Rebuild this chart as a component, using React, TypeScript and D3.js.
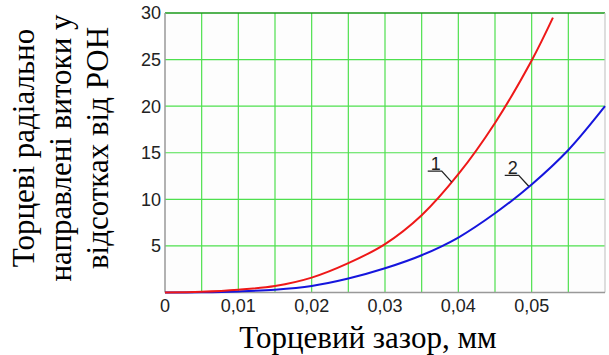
import { useRef, useEffect } from "react";
import * as d3 from "d3";

// torцевий зазор, мм
const gapRed = [0, 0.005, 0.01, 0.015, 0.02, 0.025, 0.03, 0.035, 0.04, 0.045, 0.05, 0.0529];
const curve1 = [0, 0.08, 0.3, 0.7, 1.6, 3.15, 5.2, 8.3, 12.7, 18.2, 24.9, 29.5];

const gapBlue = [0, 0.005, 0.01, 0.015, 0.02, 0.025, 0.03, 0.035, 0.04, 0.045, 0.05, 0.055, 0.06];
const curve2 = [0, 0.03, 0.12, 0.3, 0.7, 1.5, 2.6, 4.0, 5.9, 8.5, 11.6, 15.3, 20.0];

const xTicks = [0, 0.01, 0.02, 0.03, 0.04, 0.05];
const yTicks = [5, 10, 15, 20, 25, 30];
const xGrid = [0.005, 0.01, 0.015, 0.02, 0.025, 0.03, 0.035, 0.04, 0.045, 0.05, 0.055];

const labelNames = ["1", "2"];
const labelX = [0.0391, 0.0496];
const labelY = [11.85, 11.4];

const yTitle = ["Торцеві радіально", "направлені витоки у", "відсотках від РОН"];
const xTitle = "Торцевий зазор, мм";

const App = () => {
  const svgRef = useRef<SVGSVGElement>(null);

  useEffect(() => {
    const svg = d3.select(svgRef.current);
    svg.selectAll("*").remove();

    const left = 165, right = 605, top = 13, bottom = 292.5;
    const x = d3.scaleLinear().domain([0, 0.06]).range([left, right]);
    const y = d3.scaleLinear().domain([0, 30]).range([bottom, top]);

    svg.append("rect")
      .attr("x", left).attr("y", top)
      .attr("width", right - left).attr("height", bottom - top)
      .attr("fill", "#fdfdfd");

    // grid
    svg.append("g")
      .selectAll("line")
      .data(xGrid)
      .join("line")
      .attr("x1", (d) => x(d)).attr("x2", (d) => x(d))
      .attr("y1", top).attr("y2", bottom)
      .attr("stroke", "#4ee04e").attr("stroke-width", 1.2);

    svg.append("g")
      .selectAll("line")
      .data(yTicks.slice(0, -1))
      .join("line")
      .attr("x1", left).attr("x2", right)
      .attr("y1", (d) => y(d)).attr("y2", (d) => y(d))
      .attr("stroke", "#4ee04e").attr("stroke-width", 1.2);

    // frame
    svg.append("line")
      .attr("x1", left).attr("x2", right)
      .attr("y1", y(30)).attr("y2", y(30))
      .attr("stroke", "#1a9a1a").attr("stroke-width", 1.5);
    svg.append("line")
      .attr("x1", right).attr("x2", right)
      .attr("y1", top).attr("y2", bottom)
      .attr("stroke", "#c8c8c8").attr("stroke-width", 1.2);
    svg.append("line")
      .attr("x1", left).attr("x2", right)
      .attr("y1", bottom).attr("y2", bottom)
      .attr("stroke", "#999").attr("stroke-width", 1.5);
    svg.append("line")
      .attr("x1", left).attr("x2", left)
      .attr("y1", top).attr("y2", bottom)
      .attr("stroke", "#999").attr("stroke-width", 1.5);

    // tick labels
    const fmt = (d: number) => (d === 0 ? "0" : d3.format(".2f")(d).replace(".", ","));
    svg.append("g")
      .selectAll("text")
      .data(xTicks)
      .join("text")
      .attr("x", (d) => x(d))
      .attr("y", 312)
      .attr("text-anchor", "middle")
      .attr("font-family", "'Liberation Sans', Arial, sans-serif")
      .attr("font-size", 18)
      .attr("fill", "#222")
      .text(fmt);

    svg.append("g")
      .selectAll("text")
      .data(yTicks)
      .join("text")
      .attr("x", left - 4)
      .attr("y", (d) => y(d))
      .attr("dy", "0.36em")
      .attr("text-anchor", "end")
      .attr("font-family", "'Liberation Sans', Arial, sans-serif")
      .attr("font-size", 18)
      .attr("fill", "#222")
      .text((d) => d);

    // curves
    const line = d3.line<[number, number]>()
      .x((d) => x(d[0]))
      .y((d) => y(d[1]))
      .curve(d3.curveCatmullRom.alpha(0.5));

    svg.append("path")
      .attr("d", line(gapBlue.map((g, i) => [g, curve2[i]])))
      .attr("fill", "none")
      .attr("stroke", "#1515dd")
      .attr("stroke-width", 2);

    svg.append("path")
      .attr("d", line(gapRed.map((g, i) => [g, curve1[i]])))
      .attr("fill", "none")
      .attr("stroke", "#ee1818")
      .attr("stroke-width", 2);

    // curve labels with leaders
    labelNames.forEach((name, i) => {
      const ax = x(labelX[i]);
      const ay = y(labelY[i]);
      svg.append("path")
        .attr("d", `M${ax},${ay}L${ax - 10},${ay - 11}L${ax - 24},${ay - 11}`)
        .attr("fill", "none")
        .attr("stroke", "#222")
        .attr("stroke-width", 1.3);
      svg.append("text")
        .attr("x", ax - 16)
        .attr("y", ay - 12)
        .attr("text-anchor", "middle")
        .attr("font-family", "'Liberation Sans', Arial, sans-serif")
        .attr("font-size", 18)
        .attr("fill", "#222")
        .text(name);
    });

    // axis titles
    svg.append("text")
      .attr("x", 368)
      .attr("y", 348)
      .attr("text-anchor", "middle")
      .attr("font-family", "'Liberation Serif', 'Times New Roman', serif")
      .attr("font-size", 31)
      .attr("fill", "#000")
      .text(xTitle);

    svg.append("g")
      .selectAll("text")
      .data(yTitle)
      .join("text")
      .attr("transform", (_, i) => `translate(${34 + i * 36.8},148) rotate(-90)`)
      .attr("text-anchor", "middle")
      .attr("font-family", "'Liberation Serif', 'Times New Roman', serif")
      .attr("font-size", 31)
      .attr("fill", "#000")
      .text((d) => d);
  }, []);

  return (
    <svg
      ref={svgRef}
      width={609}
      height={355}
      style={{ position: "absolute", left: 0, top: 0, background: "#fff" }}
    ></svg>
  );
};

export default App;
